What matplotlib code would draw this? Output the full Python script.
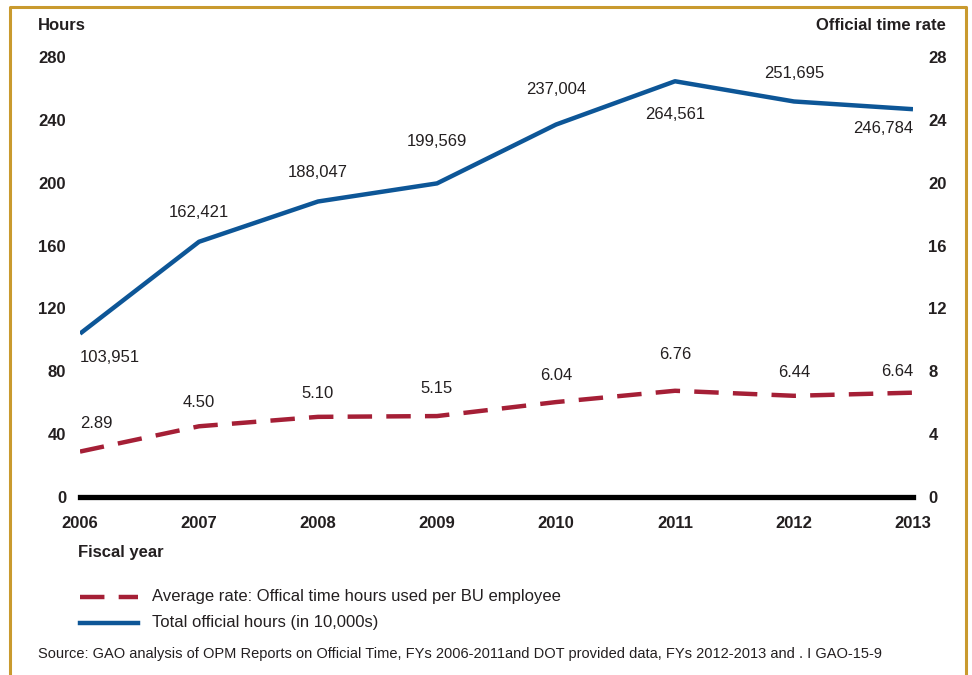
import numpy as np
import matplotlib.pyplot as plt
from matplotlib.lines import Line2D

plt.rcParams['font.family'] = ['Liberation Sans', 'DejaVu Sans']

# Data
years = [2006, 2007, 2008, 2009, 2010, 2011, 2012, 2013]
total_hours = [103951, 162421, 188047, 199569, 237004, 264561, 251695, 246784]
avg_rate = [2.89, 4.50, 5.10, 5.15, 6.04, 6.76, 6.44, 6.64]
left_ticks = [0, 40, 80, 120, 160, 200, 240, 280]
right_ticks = [0, 4, 8, 12, 16, 20, 24, 28]

blue = '#0d5697'
red = '#a51f36'
gold = '#c99a2e'
txt = '#231f20'

fig = plt.figure(figsize=(9.72, 6.75), dpi=100)
ax = fig.add_axes([80 / 972, 178 / 675, 833 / 972, 440 / 675])
ax2 = ax.twinx()

# Lines
ax.plot(years, np.array(total_hours) / 1000, color=blue, lw=3.2,
        solid_joinstyle='round', solid_capstyle='butt', zorder=3)
ax2.plot(years, avg_rate, color=red, lw=3.2, dashes=(5.5, 3.2), zorder=3)
ax.axhline(0, color='black', lw=3.8, zorder=4, clip_on=False)

ax.set_xlim(2006, 2013)
ax.set_ylim(0, 280)
ax2.set_ylim(0, 28)

# Data labels (offsets in points)
blue_off = [(0, -17), (0, 21), (0, 21), (0, 30), (0, 25), (0, -24), (0, 20), (0, -14)]
blue_ha = ['left', 'center', 'center', 'center', 'center', 'center', 'center', 'right']
for x, v, off, ha in zip(years, total_hours, blue_off, blue_ha):
    ax.annotate(f'{v:,}', (x, v / 1000), xytext=off, textcoords='offset points',
                ha=ha, va='center', fontsize=12, color=txt)

red_off = [(0, 20), (0, 17), (0, 17), (0, 20), (0, 19), (0, 26), (0, 17), (0, 15)]
red_ha = ['left', 'center', 'center', 'center', 'center', 'center', 'center', 'right']
for x, v, off, ha in zip(years, avg_rate, red_off, red_ha):
    ax2.annotate(f'{v:.2f}', (x, v), xytext=off, textcoords='offset points',
                 ha=ha, va='center', fontsize=12, color=txt)

# Ticks
for a in (ax, ax2):
    for s in a.spines.values():
        s.set_visible(False)
ax.set_yticks(left_ticks)
ax.set_yticklabels([str(t) for t in left_ticks], fontweight='bold', fontsize=12, color=txt)
ax2.set_yticks(right_ticks)
ax2.set_yticklabels([str(t) for t in right_ticks], fontweight='bold', fontsize=12, color=txt)
ax.set_xticks(years)
ax.set_xticklabels([str(y) for y in years], fontweight='bold', fontsize=12, color=txt)
ax.tick_params(axis='y', length=0, pad=10)
ax2.tick_params(axis='y', length=0, pad=11)
ax.tick_params(axis='x', length=0, pad=14)

# Axis titles
fig.text(38 / 972, 1 - 25 / 675, 'Hours', fontsize=12, fontweight='bold', color=txt,
         ha='left', va='center')
fig.text(946 / 972, 1 - 25 / 675, 'Official time rate', fontsize=12, fontweight='bold',
         color=txt, ha='right', va='center')
fig.text(78 / 972, 1 - 552 / 675, 'Fiscal year', fontsize=12, fontweight='bold',
         color=txt, ha='left', va='center')

# Legend
fig.add_artist(Line2D([80 / 972, 138 / 972], [1 - 597 / 675] * 2, color=red, lw=3.2,
                      dashes=(5.5, 3.2)))
fig.text(152 / 972, 1 - 597 / 675, 'Average rate: Offical time hours used per BU employee',
         fontsize=12, color=txt, ha='left', va='center')
fig.add_artist(Line2D([80 / 972, 138 / 972], [1 - 623 / 675] * 2, color=blue, lw=3.2))
fig.text(152 / 972, 1 - 623 / 675, 'Total official hours (in 10,000s)',
         fontsize=12, color=txt, ha='left', va='center')

fig.text(38 / 972, 1 - 654 / 675,
         'Source: GAO analysis of OPM Reports on Official Time, FYs 2006-2011and DOT provided data, '
         'FYs 2012-2013 and . I GAO-15-9',
         fontsize=10.5, color=txt, ha='left', va='center')

# Gold frame (top, left, right)
bl, br, bt = 9.5 / 972, 966 / 972, 1 - 6.5 / 675
fig.add_artist(Line2D([bl, bl, br, br], [-0.01, bt, bt, -0.01], color=gold, lw=2.2))

fig.savefig('out.png', dpi=100)
